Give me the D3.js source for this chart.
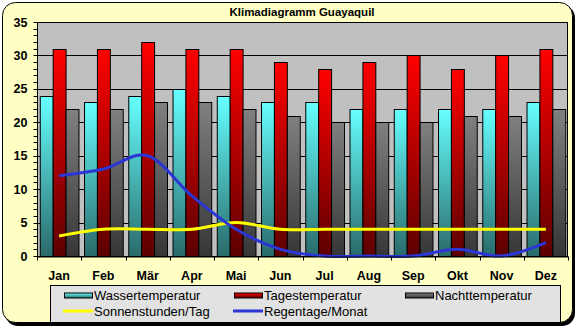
<!DOCTYPE html>
<html>
<head>
<meta charset="utf-8">
<script src="https://cdn.jsdelivr.net/npm/d3@7/dist/d3.min.js"></script>
<style>
  html, body { margin: 0; padding: 0; background: #ffffff; }
  svg { display: block; }
  text { font-family: Arial, "Liberation Sans", sans-serif; }
</style>
</head>
<body>
<svg id="chart" width="580" height="329"></svg>
<script>
// Klimadiagramm Guayaquil – monthly climate values
const months = ["Jan", "Feb", "Mär", "Apr", "Mai", "Jun", "Jul", "Aug", "Sep", "Okt", "Nov", "Dez"];
const wasser = [24, 23, 24, 25, 24, 23, 23, 22, 22, 22, 22, 23];
const tages  = [31, 31, 32, 31, 31, 29, 28, 29, 30, 28, 30, 31];
const nacht  = [22, 22, 23, 23, 22, 21, 20, 20, 20, 21, 21, 22];
const sonne  = [3, 4, 4, 4, 5, 4, 4, 4, 4, 4, 4, 4];
const regen  = [12, 13, 15, 9, 4, 1, 0, 0, 0, 1, 0, 2];
const yTicks = [0, 5, 10, 15, 20, 25, 30, 35];

const svg = d3.select("#chart");
const W = 580, H = 329;
const plot = { left: 37, right: 568, top: 22, bottom: 256 };

// gradients for the bar fills
const defs = svg.append("defs");
function grad(id, top, bottom) {
  const g = defs.append("linearGradient").attr("id", id)
    .attr("x1", 0).attr("y1", 0).attr("x2", 0).attr("y2", 1);
  g.append("stop").attr("offset", "0%").attr("stop-color", top);
  g.append("stop").attr("offset", "100%").attr("stop-color", bottom);
}
grad("gWasser", "#66ffff", "#2a6a6a");
grad("gTages", "#ff0000", "#5c0000");
grad("gNacht", "#808080", "#363636");

// frame with drop shadow
svg.append("rect").attr("x", 5).attr("y", 5).attr("width", 570).attr("height", 321)
  .attr("rx", 13).attr("fill", "#000");
svg.append("rect").attr("x", 2.5).attr("y", 2.5).attr("width", 570).attr("height", 320)
  .attr("rx", 13).attr("fill", "#ffffc4").attr("stroke", "#000").attr("stroke-width", 1);

// title
svg.append("text").attr("x", 302).attr("y", 16).attr("text-anchor", "middle")
  .attr("font-size", 11.5).attr("font-weight", "bold").text("Klimadiagramm Guayaquil");

// scales
const x = d3.scaleBand().domain(months).range([plot.left, plot.right]).padding(0);
const y = d3.scaleLinear().domain([0, 35]).range([plot.bottom, plot.top]);
const sub = d3.scaleBand().domain(["w", "t", "n"])
  .range([0, x.bandwidth()]).paddingOuter(0.2143).paddingInner(0);

// plot background
svg.append("rect").attr("x", plot.left).attr("y", plot.top)
  .attr("width", plot.right - plot.left).attr("height", plot.bottom - plot.top)
  .attr("fill", "#c0c0c0");

// horizontal gridlines
svg.append("g").selectAll("line").data(yTicks.filter(d => d > 0)).join("line")
  .attr("x1", plot.left).attr("x2", plot.right)
  .attr("y1", d => Math.round(y(d)) + 0.5).attr("y2", d => Math.round(y(d)) + 0.5)
  .attr("stroke", "#000").attr("stroke-width", 1);

// bars
const series = [
  { key: "w", values: wasser, fill: "url(#gWasser)" },
  { key: "t", values: tages, fill: "url(#gTages)" },
  { key: "n", values: nacht, fill: "url(#gNacht)" }
];
series.forEach(s => {
  svg.append("g").selectAll("rect").data(s.values).join("rect")
    .attr("x", (d, i) => x(months[i]) + sub(s.key) + 0.5)
    .attr("y", d => Math.round(y(d)) + 0.5)
    .attr("width", sub.bandwidth())
    .attr("height", d => Math.round(y(0)) - Math.round(y(d)))
    .attr("fill", s.fill).attr("stroke", "#000").attr("stroke-width", 1);
});

// plot border
svg.append("rect").attr("x", plot.left + 0.5).attr("y", plot.top + 0.5)
  .attr("width", plot.right - plot.left - 1).attr("height", plot.bottom - plot.top)
  .attr("fill", "none").attr("stroke", "#000").attr("stroke-width", 1);

// smoothed lines
const line = d3.line()
  .x((d, i) => x(months[i]) + x.bandwidth() / 2)
  .y(d => y(d))
  .curve(d3.curveCatmullRom.alpha(0));
svg.append("path").datum(sonne).attr("d", line)
  .attr("fill", "none").attr("stroke", "#ffff00").attr("stroke-width", 3);
svg.append("path").datum(regen).attr("d", line)
  .attr("fill", "none").attr("stroke", "#2b36d4").attr("stroke-width", 3);

// y axis
const yAxis = svg.append("g").attr("transform", `translate(${plot.left + 0.5},0)`);
yAxis.append("line").attr("y1", plot.top).attr("y2", plot.bottom + 0.5)
  .attr("stroke", "#000");
yAxis.selectAll("line.minor").data(d3.range(0, 36)).join("line").attr("class", "minor")
  .attr("x1", -4).attr("x2", 0)
  .attr("y1", d => Math.round(y(d)) + 0.5).attr("y2", d => Math.round(y(d)) + 0.5)
  .attr("stroke", "#000");
yAxis.selectAll("text").data(yTicks).join("text")
  .attr("x", -10).attr("y", d => y(d) + 4.5)
  .attr("text-anchor", "end").attr("font-size", 12.5).attr("font-weight", "bold")
  .text(d => d);

// x axis
const xAxis = svg.append("g").attr("transform", `translate(0,${plot.bottom + 0.5})`)
  .call(d3.axisBottom(x).tickSize(0).tickPadding(0));
xAxis.select(".domain").attr("stroke", "#000");
xAxis.selectAll(".tick text").attr("y", 23.5).attr("dy", 0)
  .attr("font-size", 12.5).attr("font-weight", "bold").attr("fill", "#000")
  .attr("font-family", "Arial, 'Liberation Sans', sans-serif");
xAxis.append("g").selectAll("line").data(d3.range(0, 13)).join("line")
  .attr("x1", d => Math.round(plot.left + d * x.step()) + 0.5)
  .attr("x2", d => Math.round(plot.left + d * x.step()) + 0.5)
  .attr("y1", 0).attr("y2", 4).attr("stroke", "#000");

// legend
const lg = svg.append("g");
lg.append("rect").attr("x", 50.5).attr("y", 285.5).attr("width", 510).attr("height", 37)
  .attr("fill", "#e2e2e2").attr("stroke", "#000");
const legendItems = [
  { label: "Wassertemperatur", type: "bar", fill: "url(#gWasser)", sx: 64, tx: 94, row: 0 },
  { label: "Tagestemperatur", type: "bar", fill: "url(#gTages)", sx: 234, tx: 264, row: 0 },
  { label: "Nachttemperatur", type: "bar", fill: "url(#gNacht)", sx: 405, tx: 435, row: 0 },
  { label: "Sonnenstunden/Tag", type: "line", color: "#ffff00", sx: 63, tx: 94, row: 1 },
  { label: "Regentage/Monat", type: "line", color: "#2b36d4", sx: 233, tx: 264, row: 1 }
];
const rowY = [295.5, 311];
legendItems.forEach(it => {
  const cy = rowY[it.row];
  if (it.type === "bar") {
    lg.append("rect").attr("x", it.sx + 0.5).attr("y", cy - 2.5).attr("width", 28).attr("height", 5)
      .attr("fill", it.fill).attr("stroke", "#000");
  } else {
    lg.append("line").attr("x1", it.sx).attr("x2", it.sx + 30).attr("y1", cy).attr("y2", cy)
      .attr("stroke", it.color).attr("stroke-width", 3);
  }
  lg.append("text").attr("x", it.tx).attr("y", cy + 4.5).attr("font-size", 13)
    .text(it.label);
});
</script>
</body>
</html>
